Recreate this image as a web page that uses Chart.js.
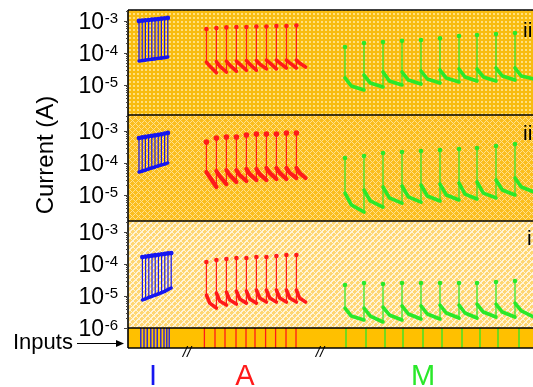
<!DOCTYPE html>
<html>
<head>
<meta charset="utf-8">
<script src="https://cdn.jsdelivr.net/npm/chart.js@4/dist/chart.umd.min.js"></script>
<style>
  html, body { margin: 0; padding: 0; background: #fff; overflow: hidden; }
  #wrap { position: relative; width: 533px; height: 387px; overflow: hidden; }
  #c { position: absolute; left: 0; top: 0; }
</style>
</head>
<body>
<div id="wrap"><canvas id="c" width="545" height="387"></canvas></div>
<script>
// ---- time of each pulse (s) ----
const blueTimes  = [2.75, 3.55, 4.35, 5.15, 5.95, 6.75, 7.55, 8.35, 9.15, 9.95];
const blueTimesI = [3.6, 4.4, 5.2, 6.0, 6.8, 7.6, 8.4, 9.2, 10.0, 10.8];
const redTimes   = [19.6, 22.1, 24.6, 27.1, 29.6, 32.1, 34.6, 37.1, 39.6, 42.1];
const greenTimes = [54.25, 59.0, 63.75, 68.5, 73.25, 78.0, 82.75, 87.25, 92.0, 96.75];
const redLastDur = 2.3, greenLastDur = 4.75;

// ---- input pulses (s) ----
const blueInputs  = [3.2, 4.0, 4.8, 5.7, 6.5, 7.3, 8.2, 9.0, 9.7, 10.3];
const redInputs   = [19.1, 21.75, 24.25, 27.0, 29.5, 31.75, 34.4, 36.9, 39.5, 42.0];
const greenInputs = [54.5, 59.5, 64.25, 68.75, 73.75, 78.5, 83.5, 88.0, 92.5, 97.75];

// ---- panel iii: current (A) ----
const blueHi3    = [1.0e-3, 1.02e-3, 1.05e-3, 1.07e-3, 1.1e-3, 1.12e-3, 1.15e-3, 1.18e-3, 1.21e-3, 1.24e-3];
const blueLo3    = [5.6e-5, 5.8e-5, 6.0e-5, 6.2e-5, 6.4e-5, 6.6e-5, 6.8e-5, 7.0e-5, 7.2e-5, 7.5e-5];
const redPeak3   = [5.6e-4, 6.0e-4, 6.3e-4, 6.5e-4, 6.5e-4, 6.7e-4, 6.7e-4, 7.0e-4, 7.0e-4, 7.2e-4];
const redStart3  = [5.2e-5, 5.4e-5, 5.6e-5, 5.6e-5, 5.8e-5, 5.8e-5, 6.0e-5, 6.0e-5, 6.0e-5, 6.0e-5];
const redKnee3   = [3.9e-5, 3.9e-5, 4.2e-5, 4.5e-5, 4.5e-5, 4.5e-5, 4.9e-5, 4.9e-5, 4.9e-5, 4.9e-5];
const redEnd3    = [2.4e-5, 2.55e-5, 2.7e-5, 2.9e-5, 2.9e-5, 3.2e-5, 3.2e-5, 3.4e-5, 3.4e-5, 3.65e-5];
const greenPeak3 = [1.54e-4, 2.05e-4, 2.2e-4, 2.4e-4, 2.55e-4, 2.9e-4, 3.4e-4, 3.65e-4, 3.9e-4, 4.2e-4];
const greenStart3= [1.66e-5, 2.05e-5, 2.55e-5, 2.55e-5, 2.74e-5, 2.94e-5, 3.16e-5, 3.16e-5, 3.4e-5, 3.4e-5];
const greenKnee3 = [9.3e-6, 1.15e-5, 1.33e-5, 1.43e-5, 1.54e-5, 1.65e-5, 1.78e-5, 1.78e-5, 1.91e-5, 1.91e-5];
const greenEnd3  = [7.0e-6, 8.7e-6, 1.0e-5, 1.07e-5, 1.15e-5, 1.24e-5, 1.33e-5, 1.33e-5, 1.43e-5, 1.54e-5];

// ---- panel ii: current (A) ----
const blueHi2    = [6.0e-4, 6.3e-4, 6.5e-4, 6.8e-4, 7.0e-4, 7.3e-4, 7.6e-4, 7.9e-4, 8.3e-4, 8.7e-4];
const blueLo2    = [5.2e-5, 5.6e-5, 6.0e-5, 6.5e-5, 7.0e-5, 7.5e-5, 8.1e-5, 8.7e-5, 9.3e-5, 1.0e-4];
const redPeak2   = [4.5e-4, 6.0e-4, 6.5e-4, 6.5e-4, 7.5e-4, 8.1e-4, 8.1e-4, 8.1e-4, 8.7e-4, 8.7e-4];
const redStart2  = [5.2e-5, 5.6e-5, 6.0e-5, 6.0e-5, 6.5e-5, 6.5e-5, 7.0e-5, 7.0e-5, 7.0e-5, 7.0e-5];
const redKnee2   = [3.65e-5, 3.9e-5, 4.2e-5, 4.2e-5, 4.5e-5, 4.5e-5, 4.9e-5, 4.9e-5, 4.9e-5, 4.9e-5];
const redEnd2    = [1.78e-5, 2.2e-5, 2.55e-5, 2.74e-5, 2.94e-5, 2.94e-5, 3.16e-5, 3.16e-5, 3.4e-5, 3.4e-5];
const greenPeak2 = [1.43e-4, 1.66e-4, 2.05e-4, 2.2e-4, 2.37e-4, 2.55e-4, 2.74e-4, 2.94e-4, 3.4e-4, 3.9e-4];
const greenStart2= [1.15e-5, 1.43e-5, 1.78e-5, 1.91e-5, 2.05e-5, 2.2e-5, 2.37e-5, 2.55e-5, 2.94e-5, 3.4e-5];
const greenKnee2 = [4.9e-6, 6.5e-6, 8.1e-6, 8.7e-6, 9.3e-6, 1.0e-5, 1.07e-5, 1.15e-5, 1.43e-5, 1.78e-5];
const greenEnd2  = [2.94e-6, 4.2e-6, 5.6e-6, 6.0e-6, 6.5e-6, 7.0e-6, 7.5e-6, 8.1e-6, 1.0e-5, 1.24e-5];

// ---- panel i: current (A) ----
const blueHi1    = [1.65e-4, 1.7e-4, 1.76e-4, 1.82e-4, 1.88e-4, 1.94e-4, 2.0e-4, 2.07e-4, 2.14e-4, 2.2e-4];
const blueLo1    = [7.5e-6, 8.2e-6, 9.0e-6, 9.8e-6, 1.07e-5, 1.17e-5, 1.28e-5, 1.4e-5, 1.6e-5, 1.78e-5];
const redPeak1   = [1.15e-4, 1.33e-4, 1.43e-4, 1.54e-4, 1.54e-4, 1.66e-4, 1.66e-4, 1.78e-4, 1.91e-4, 1.91e-4];
const redStart1  = [1.07e-5, 1.24e-5, 1.33e-5, 1.43e-5, 1.43e-5, 1.54e-5, 1.54e-5, 1.54e-5, 1.54e-5, 1.54e-5];
const redKnee1   = [6.0e-6, 7.0e-6, 7.5e-6, 8.1e-6, 8.1e-6, 8.7e-6, 8.7e-6, 8.7e-6, 8.7e-6, 8.7e-6];
const redEnd1    = [4.2e-6, 5.2e-6, 5.6e-6, 6.0e-6, 6.0e-6, 6.5e-6, 6.5e-6, 6.5e-6, 6.5e-6, 6.5e-6];
const greenPeak1 = [2.2e-5, 2.55e-5, 2.37e-5, 2.55e-5, 2.55e-5, 2.55e-5, 2.55e-5, 2.55e-5, 2.74e-5, 2.94e-5];
const greenStart1= [4.2e-6, 4.2e-6, 4.5e-6, 4.9e-6, 4.9e-6, 5.2e-6, 5.2e-6, 5.6e-6, 5.6e-6, 6.0e-6];
const greenKnee1 = [2.37e-6, 2.37e-6, 2.55e-6, 2.74e-6, 2.74e-6, 2.94e-6, 2.94e-6, 3.16e-6, 3.16e-6, 3.4e-6];
const greenEnd1  = [1.78e-6, 1.54e-6, 1.78e-6, 1.91e-6, 1.91e-6, 2.05e-6, 2.05e-6, 2.2e-6, 2.2e-6, 2.2e-6];

// ---- labels ----
const panelLabels = ['iii', 'ii', 'i'];
const sectionLabels = ['I', 'A', 'M'];
const sectionLabelTimes = [6.25, 29.25, 73.75];
const breakTimes = [14.75, 48.0];
const yTitle = 'Current (A)';
const inputsTitle = 'Inputs';

const BLUE = '#1616f0', RED = '#ff1a1a', GREEN = '#2ae82a';
const FONT = '"Liberation Sans", Arial, Helvetica, sans-serif';

// blue block: current switches between a low and a high level at every pulse
function switchTrain(times, hi, lo) {
  const pts = [];
  times.forEach((t, i) => {
    pts.push({x: t, y: lo[i]});
    pts.push({x: t, y: hi[i], peak: true});
    pts.push({x: t, y: lo[i]});
  });
  return pts;
}
// spiking blocks: peak, drop, then relaxation until the next pulse
function spikeTrain(times, peak, start, knee, end, lastDur) {
  const pts = [];
  times.forEach((t, i) => {
    const next = i + 1 < times.length ? times[i + 1] : t + lastDur;
    pts.push({x: t, y: peak[i], peak: true});
    pts.push({x: t, y: start[i]});
    pts.push({x: t + (next - t) / 3, y: knee[i]});
    pts.push({x: next, y: end[i]});
  });
  return pts;
}
function inputMarks(times) {
  const pts = [];
  times.forEach(t => pts.push({x: t, y: 0}, {x: t, y: 1}, {x: t, y: null}));
  return pts;
}

function trace(data, color, axis, peakR, thick) {
  return {
    type: 'line', data, yAxisID: axis,
    borderColor: color, backgroundColor: color,
    pointBackgroundColor: color, pointBorderWidth: 0,
    pointRadius: c => (c.raw && c.raw.peak) ? peakR : 0,
    pointHoverRadius: 0, borderWidth: 1.2, tension: 0,
    borderJoinStyle: 'round', borderCapStyle: 'round',
    segment: { borderWidth: c => c.p0.parsed.x === c.p1.parsed.x ? 1.2 : thick }
  };
}
function inputTrace(times, color) {
  return { type: 'line', data: inputMarks(times), yAxisID: 'yIn', borderColor: color,
    borderWidth: 1.3, pointRadius: 0, pointHoverRadius: 0, spanGaps: false };
}

// background fills for the three panels
function makeTile(size, draw) {
  const c = document.createElement('canvas');
  c.width = c.height = size;
  const g = c.getContext('2d');
  draw(g, size);
  return g.createPattern(c, 'repeat');
}
const fillIII = makeTile(4, g => {
  g.fillStyle = '#F8BC10'; g.fillRect(0, 0, 4, 4);
  g.fillStyle = '#FFE07E'; g.fillRect(1, 1, 2, 2);
});
const fillII = makeTile(6, g => {
  g.fillStyle = '#FBBE1E'; g.fillRect(0, 0, 6, 6);
  g.fillStyle = '#FFE08C';
  for (let x = 0; x < 6; x++) for (let y = 0; y < 6; y++)
    if ((x + y) % 6 === 0 || (x - y + 6) % 6 === 0) g.fillRect(x, y, 1, 1);
});
const fillI = makeTile(6, g => {
  g.fillStyle = '#FFD672'; g.fillRect(0, 0, 6, 6);
  g.fillStyle = '#FFF4D8';
  for (let x = 0; x < 6; x++) for (let y = 0; y < 6; y++) {
    const a = (x + y) % 6, b = (x - y + 6) % 6;
    if (a === 0 || b === 0 || a === 1) g.fillRect(x, y, 1, 1);
  }
});

const AXIS_W = 128;
function panelAxis(extra) {
  return Object.assign({
    position: 'left', stack: 'panels', display: true, bounds: 'data',
    ticks: { display: false }, grid: { display: false }, border: { display: false },
    afterFit(s) { s.width = AXIS_W; }
  }, extra);
}

const panels = [
  { id: 'y3', fill: fillIII, label: panelLabels[0], lx: 523, ly: 37 },
  { id: 'y2', fill: fillII,  label: panelLabels[1], lx: 523, ly: 140 },
  { id: 'y1', fill: fillI,   label: panelLabels[2], lx: 527, ly: 245 }
];

function drawPow(ctx, exp, xRight, y) {
  const e = '-' + Math.abs(exp);
  ctx.font = '15px ' + FONT;
  const ew = ctx.measureText(e).width;
  ctx.textAlign = 'left';
  ctx.textBaseline = 'alphabetic';
  ctx.fillText(e, xRight - ew, y + 2);
  ctx.font = '23px ' + FONT;
  ctx.textAlign = 'right';
  ctx.fillText('10', xRight - ew - 0.5, y + 8.2);
}

const decorPlugin = {
  id: 'decor',
  beforeDatasetsDraw(chart) {
    const {ctx, chartArea: a} = chart;
    ctx.save();
    panels.forEach(p => {
      const s = chart.scales[p.id];
      ctx.fillStyle = p.fill;
      ctx.fillRect(a.left, s.top, a.right - a.left, s.bottom - s.top);
    });
    const sIn = chart.scales.yIn;
    ctx.fillStyle = '#FFC000';
    ctx.fillRect(a.left, sIn.top, a.right - a.left, sIn.bottom - sIn.top);
    ctx.restore();
  },
  afterDatasetsDraw(chart) {
    const {ctx, chartArea: a, scales} = chart;
    const xs = scales.x;
    ctx.save();
    ctx.fillStyle = '#000';
    ctx.strokeStyle = '#000';

    // frame lines
    ctx.lineWidth = 1.6;
    const ys = [scales.y3.top, scales.y2.top, scales.y1.top, scales.yIn.top, scales.yIn.bottom];
    ys.forEach(y => { ctx.beginPath(); ctx.moveTo(a.left, y); ctx.lineTo(a.right, y); ctx.stroke(); });
    ctx.beginPath(); ctx.moveTo(a.left, a.top); ctx.lineTo(a.left, a.bottom); ctx.stroke();

    // log ticks and labels
    panels.forEach(p => {
      const s = scales[p.id];
      const lo = Math.log10(s.min), hi = Math.log10(s.max);
      ctx.strokeStyle = '#444';
      ctx.lineWidth = 1;
      for (let e = Math.floor(lo); e <= Math.ceil(hi); e++) {
        for (let m = 1; m <= 9; m++) {
          const v = m * Math.pow(10, e);
          const lv = Math.log10(v);
          if (lv < lo - 1e-6 || lv > hi + 1e-6) continue;
          const y = Math.round(s.getPixelForValue(v)) + 0.5;
          const len = m === 1 ? 4 : 2;
          ctx.beginPath(); ctx.moveTo(a.left - len, y); ctx.lineTo(a.left, y); ctx.stroke();
        }
        if (e >= lo - 1e-6 && e <= hi + 1e-6) {
          ctx.fillStyle = '#000';
          drawPow(ctx, e, 118, s.getPixelForValue(Math.pow(10, e)));
        }
      }
      ctx.fillStyle = '#000';
      ctx.font = '21px ' + FONT;
      ctx.textAlign = 'left';
      ctx.textBaseline = 'alphabetic';
      ctx.fillText(p.label, p.lx, p.ly);
    });

    // y title
    ctx.save();
    ctx.translate(53, 155);
    ctx.rotate(-Math.PI / 2);
    ctx.font = '24px ' + FONT;
    ctx.textAlign = 'center';
    ctx.textBaseline = 'alphabetic';
    ctx.fillStyle = '#000';
    ctx.fillText(yTitle, 0, 0);
    ctx.restore();

    // inputs label and arrow
    ctx.font = '22px ' + FONT;
    ctx.textAlign = 'left';
    ctx.fillText(inputsTitle, 13, 349);
    ctx.lineWidth = 1.2;
    ctx.strokeStyle = '#000';
    ctx.beginPath(); ctx.moveTo(77, 343.5); ctx.lineTo(119, 343.5); ctx.stroke();
    ctx.beginPath(); ctx.moveTo(124, 343.5); ctx.lineTo(116, 340); ctx.lineTo(116, 347); ctx.closePath(); ctx.fill();

    // axis breaks
    ctx.font = 'italic 15px ' + FONT;
    ctx.textAlign = 'center';
    breakTimes.forEach(t => ctx.fillText('//', xs.getPixelForValue(t), 357));

    // section labels
    const cols = [BLUE, RED, GREEN];
    ctx.font = '29px ' + FONT;
    sectionLabels.forEach((l, i) => {
      ctx.fillStyle = cols[i];
      ctx.fillText(l, xs.getPixelForValue(sectionLabelTimes[i]), 385);
    });
    ctx.restore();
  }
};

const datasets = [
  trace(switchTrain(blueTimes, blueHi3, blueLo3), BLUE, 'y3', 2.4, 3.4),
  trace(spikeTrain(redTimes, redPeak3, redStart3, redKnee3, redEnd3, redLastDur), RED, 'y3', 2.3, 3.6),
  trace(spikeTrain(greenTimes, greenPeak3, greenStart3, greenKnee3, greenEnd3, greenLastDur), GREEN, 'y3', 2.3, 3.6),
  trace(switchTrain(blueTimes, blueHi2, blueLo2), BLUE, 'y2', 2.4, 3.4),
  trace(spikeTrain(redTimes, redPeak2, redStart2, redKnee2, redEnd2, redLastDur), RED, 'y2', 2.8, 4.2),
  trace(spikeTrain(greenTimes, greenPeak2, greenStart2, greenKnee2, greenEnd2, greenLastDur), GREEN, 'y2', 2.3, 3.6),
  trace(switchTrain(blueTimesI, blueHi1, blueLo1), BLUE, 'y1', 2.4, 3.4),
  trace(spikeTrain(redTimes, redPeak1, redStart1, redKnee1, redEnd1, redLastDur), RED, 'y1', 2.3, 3.6),
  trace(spikeTrain(greenTimes, greenPeak1, greenStart1, greenKnee1, greenEnd1, greenLastDur), GREEN, 'y1', 2.3, 3.6),
  inputTrace(blueInputs, BLUE),
  inputTrace(redInputs, RED),
  inputTrace(greenInputs, GREEN)
];

new Chart(document.getElementById('c'), {
  type: 'line',
  data: { datasets },
  options: {
    responsive: false, animation: false, devicePixelRatio: 1,
    layout: { padding: { top: 10, bottom: 39, left: 0, right: 5 } },
    plugins: { legend: { display: false }, tooltip: { enabled: false } },
    scales: {
      x: { type: 'linear', min: 0, max: 103, display: false },
      yIn: panelAxis({ type: 'linear', min: 0, max: 1, stackWeight: 20, weight: 1 }),
      y1: panelAxis({ type: 'logarithmic', min: 1e-6, max: Math.pow(10, -2.65625), stackWeight: 107, weight: 2 }),
      y2: panelAxis({ type: 'logarithmic', min: Math.pow(10, -5.8125), max: Math.pow(10, -2.5), stackWeight: 106, weight: 3 }),
      y3: panelAxis({ type: 'logarithmic', min: Math.pow(10, -5.9375), max: Math.pow(10, -2.65625), stackWeight: 105, weight: 4 })
    }
  },
  plugins: [decorPlugin]
});
</script>
</body>
</html>
